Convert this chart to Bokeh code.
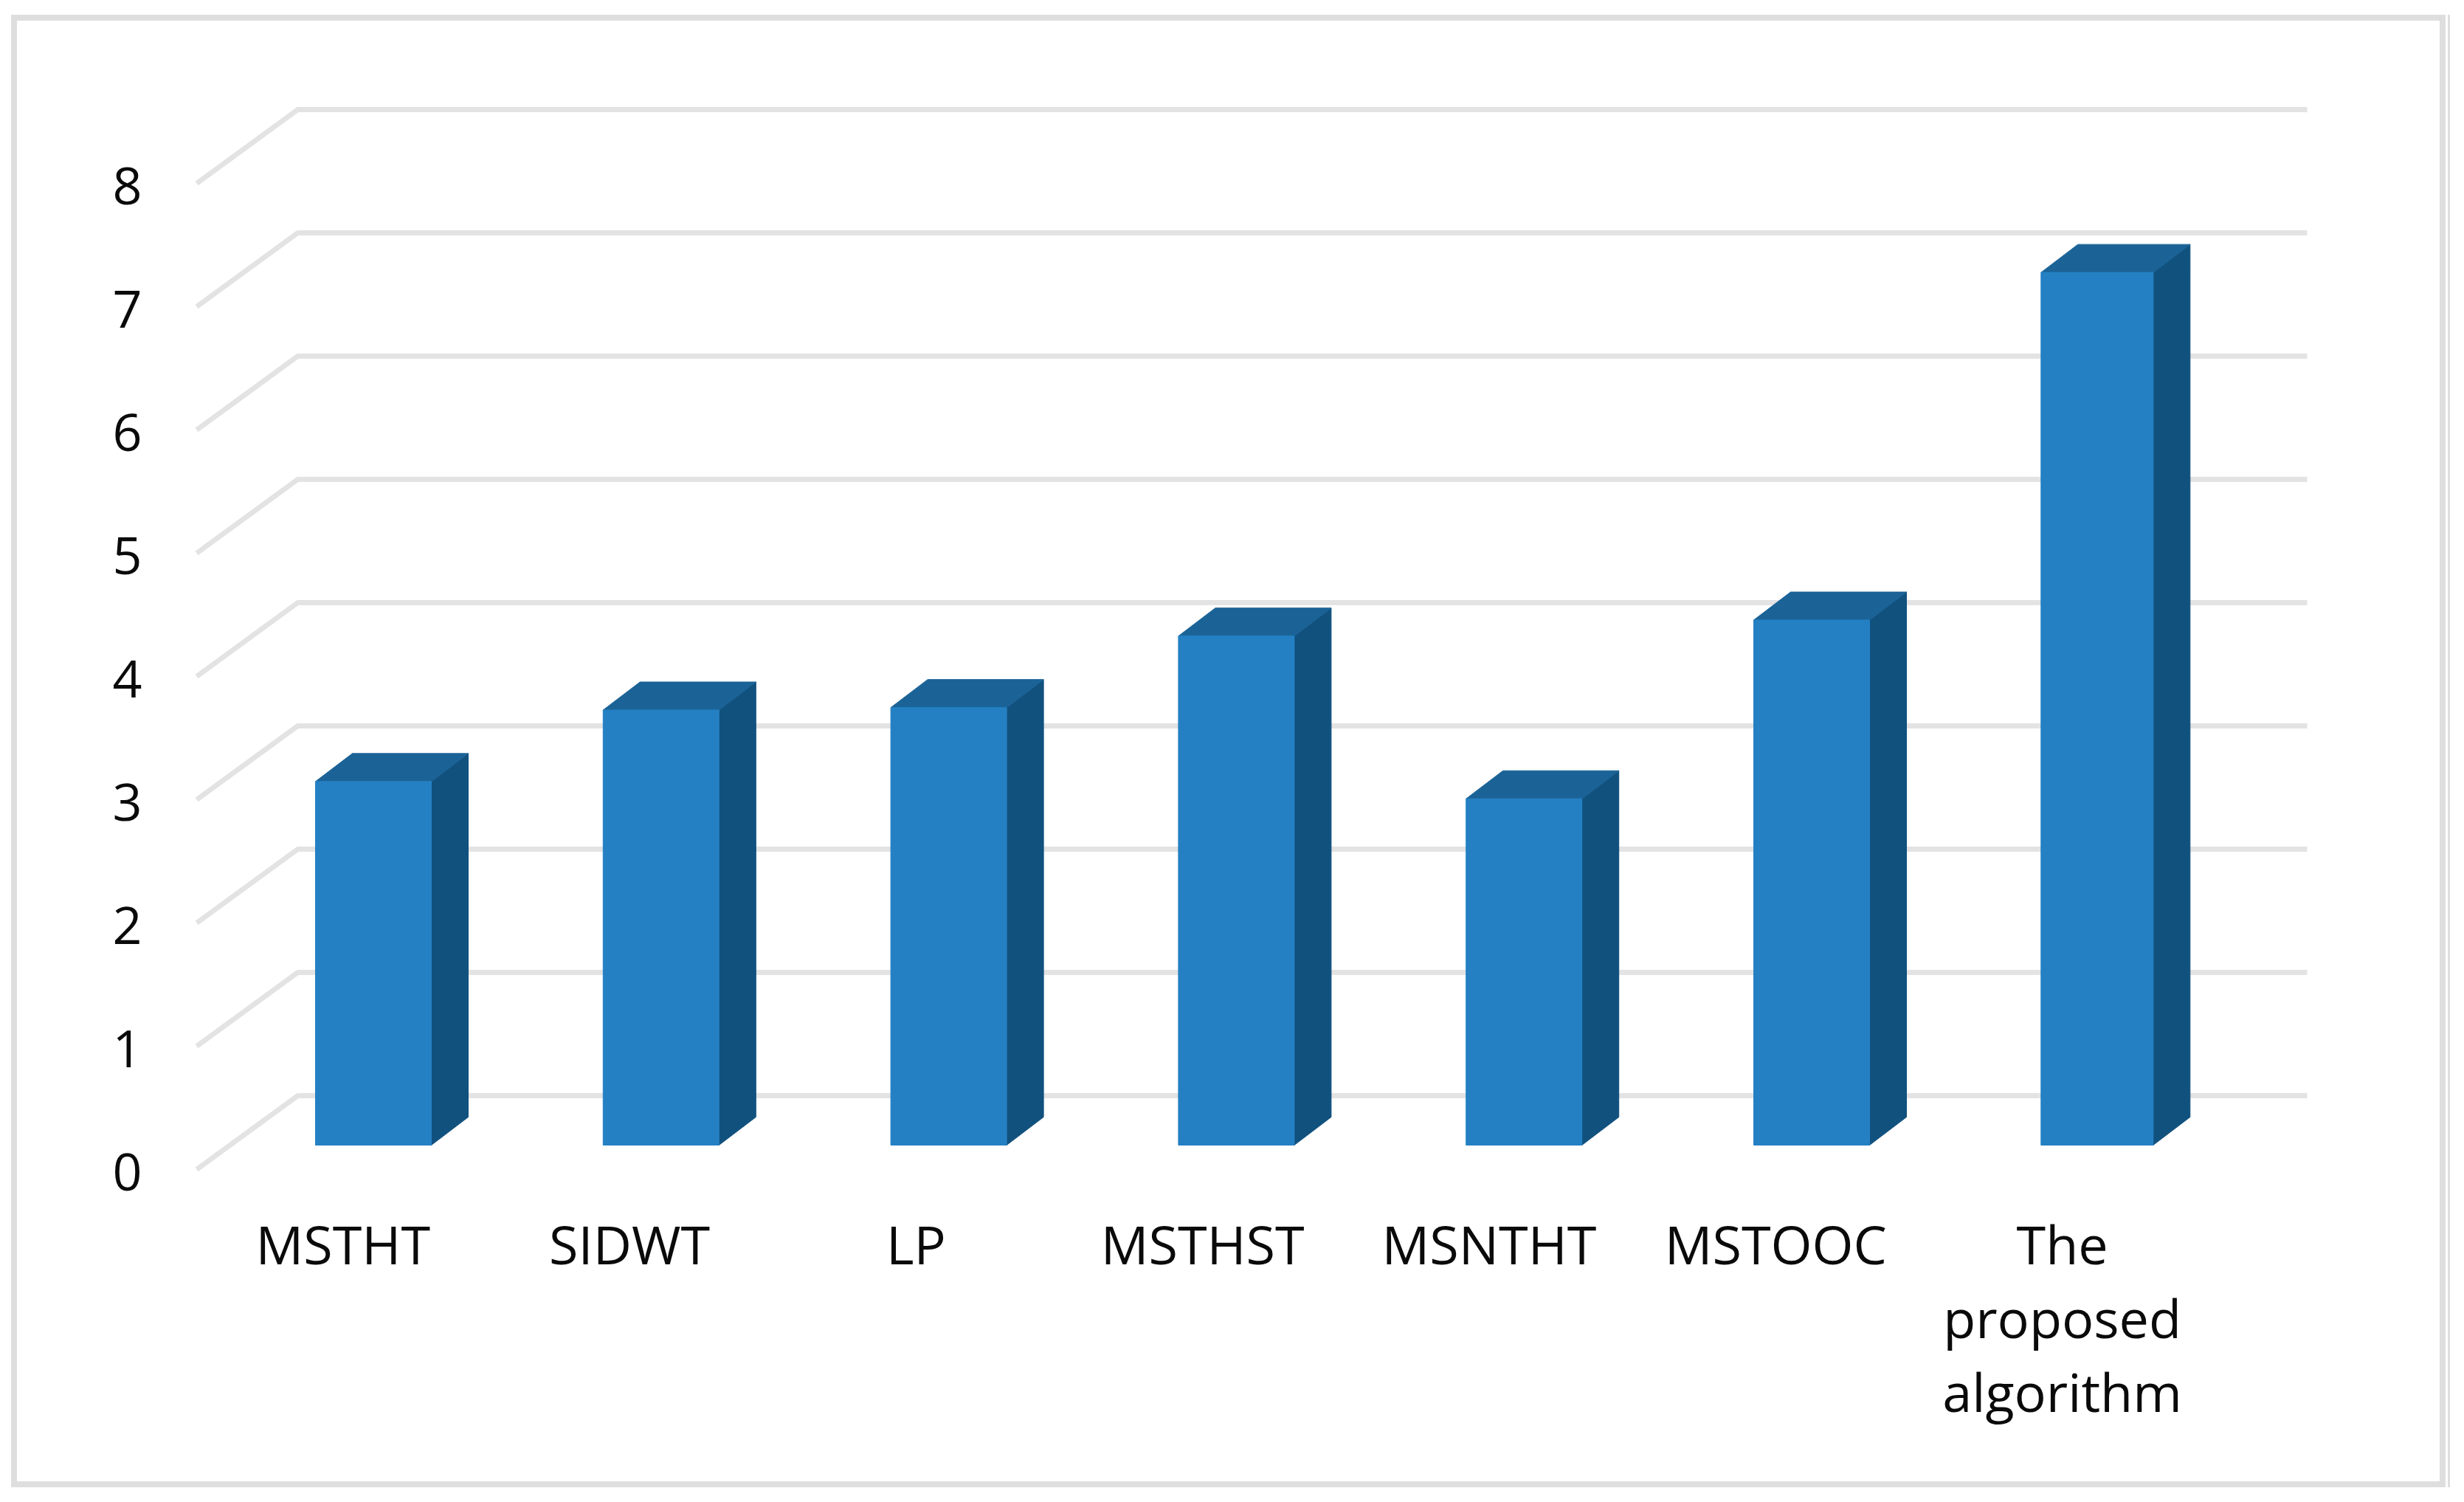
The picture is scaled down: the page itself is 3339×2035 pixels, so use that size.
from bokeh.plotting import figure
from bokeh.embed import file_html
from bokeh.resources import INLINE
from bokeh.models import Range1d, LinearAxis, FixedTicker, Label, InlineStyleSheet

categories = ["MSTHT", "SIDWT", "LP", "MSTHST", "MSNTHT", "MSTOOC", "The\nproposed\nalgorithm"]
values = [2.95, 3.53, 3.55, 4.13, 2.81, 4.26, 7.08]
y_ticks = [0, 1, 2, 3, 4, 5, 6, 7, 8]

FONT = "Open Sans"
FRONT = "#2480C3"
SIDE = "#11517E"
TOP = "#1B6397"
GRID = "#E3E3E3"
BORDER = "#DEDEDE"
TEXT = "#0A0A0A"

# chart geometry, in picture pixels
W, H = 3323, 2019
F_L, F_R, F_T, F_B = 240, 3200, 60, 1960
X0, DX = 505.5, 389.8      # centre of first bar and bar spacing
Y0, DY = 1551.0, 167.0     # bar base and one value unit
LX0, LDX = 464.3, 388.3    # first category label centre and label spacing
AXIS_Y = 1625
LABEL_TOP = AXIS_Y + 4
CONT_TOP = LABEL_TOP + 6
LINE_STEP = 100
def xv(px): return (px - X0) / DX
def yv(py): return (Y0 - py) / DY

p = figure(width=W, height=H, output_backend="svg", toolbar_location=None,
           x_range=Range1d(xv(F_L), xv(F_R)), y_range=Range1d(yv(F_B), yv(F_T)),
           x_axis_location=None, y_axis_location=None,
           min_border_left=F_L, min_border_right=W - F_R,
           min_border_top=F_T, min_border_bottom=H - F_B,
           background_fill_color="white", border_fill_color="white")
p.grid.visible = False
p.outline_line_color = None

AX_SHIFT = 36.0 / DY
p.extra_y_ranges = {"ax": Range1d(yv(F_B) + AX_SHIFT, yv(F_T) + AX_SHIFT)}
p.extra_x_ranges = {"ax": Range1d((F_L - LX0) / LDX, (F_R - LX0) / LDX)}

first_lines = {i: c.split("\n")[0] for i, c in enumerate(categories)}
ya = LinearAxis(y_range_name="ax", ticker=FixedTicker(ticks=y_ticks))
xa = LinearAxis(x_range_name="ax", ticker=FixedTicker(ticks=list(range(len(categories)))),
                major_label_overrides=first_lines, fixed_location=yv(AXIS_Y))
for a in (ya, xa):
    a.axis_line_color = None
    a.major_tick_line_color = None
    a.minor_tick_line_color = None
    a.major_label_text_font = FONT
    a.major_label_text_color = TEXT
ya.major_label_text_font_size = "70px"
xa.major_label_text_font_size = "72px"
ya.major_label_standoff = 42
xa.major_label_standoff = LABEL_TOP - AXIS_Y
p.add_layout(ya, "left")
p.add_layout(xa, "below")

# continuation lines of wrapped category labels
for i, c in enumerate(categories):
    for k, line in enumerate(c.split("\n")[1:], start=1):
        p.add_layout(Label(x=i, y=yv(CONT_TOP + k * LINE_STEP), x_range_name="ax", text=line,
                           text_font=FONT, text_font_size="72px", text_color=TEXT,
                           text_align="center", text_baseline="top"))

gx0, gx1, gx2 = xv(266), xv(403), xv(3126)
back = 67.0 / DY
front = -33.0 / DY
p.multi_line(xs=[[gx0, gx1, gx2] for _ in y_ticks],
             ys=[[t + front, t + back, t + back] for t in y_ticks],
             line_color=GRID, line_width=7, line_join="round")

half_w = [78.5 / DX] * 6 + [76.0 / DX]
xc = [float(i) for i in range(6)] + [6.0 - 3.0 / DX]
ddx, ddy = 50.0 / DX, 38.0 / DY
p.patches(xs=[[c + h, c + h + ddx, c + h + ddx, c + h] for c, h in zip(xc, half_w)],
          ys=[[0, ddy, v + ddy, v] for v in values], fill_color=SIDE, line_color=SIDE, line_width=1)
p.patches(xs=[[c - h, c - h + ddx, c + h + ddx, c + h] for c, h in zip(xc, half_w)],
          ys=[[v, v + ddy, v + ddy, v] for v in values], fill_color=TOP, line_color=TOP, line_width=1)
p.quad(left=[c - h for c, h in zip(xc, half_w)], right=[c + h for c, h in zip(xc, half_w)],
       bottom=0, top=values, fill_color=FRONT, line_color=FRONT, line_width=1)

# picture frame and the thin stray rule to its right
p.stylesheets = [InlineStyleSheet(css=f"""
:host::after {{content:""; position:absolute; left:15px; top:20px; width:{3314-15}px; height:{2015-20}px;
  box-sizing:border-box; border:8px solid {BORDER}; pointer-events:none; z-index:10;}}
:host::before {{content:""; position:absolute; left:3317px; top:20px; width:3px; height:{2015-20}px;
  background:{BORDER}; pointer-events:none; z-index:10;}}
""")]

open("out.html", "w").write(file_html(p, INLINE))
